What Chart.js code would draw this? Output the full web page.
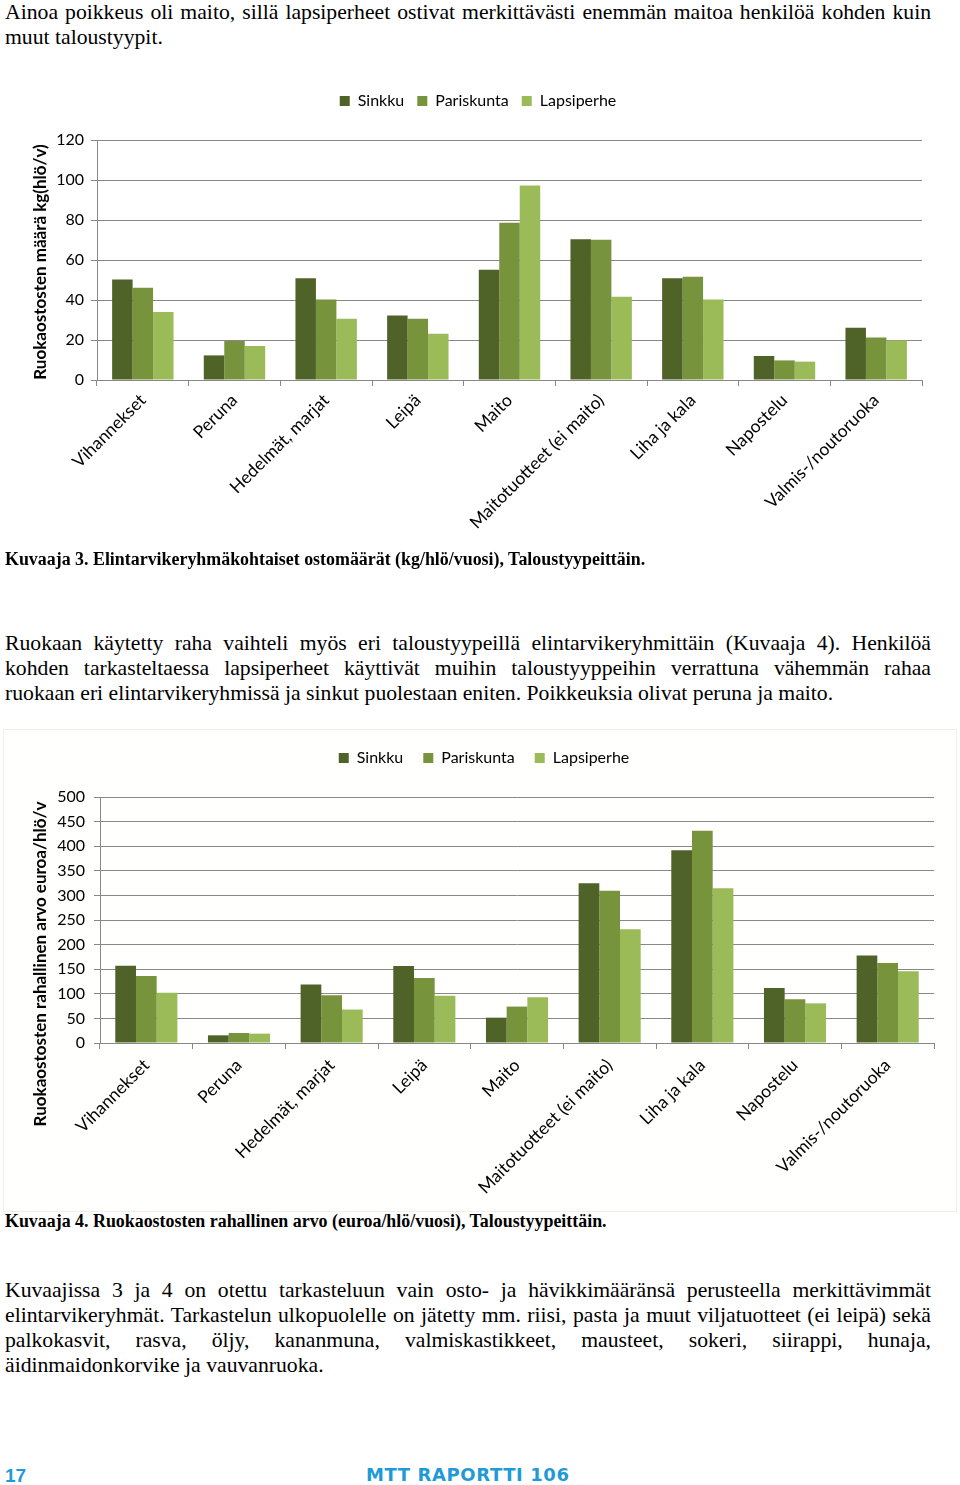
<!DOCTYPE html>
<html>
<head>
<meta charset="utf-8">
<script src="https://cdn.jsdelivr.net/npm/chart.js@4.4.1/dist/chart.umd.min.js"></script>
<style>
  html, body { margin: 0; padding: 0; background: #fff; }
  body { width: 960px; height: 1485px; position: relative; overflow: hidden; }
  .t { position: absolute; left: 5px; width: 926px; font-family: "Liberation Serif", "Times New Roman", serif; font-size: 21.7px; line-height: 25px; color: #000; white-space: nowrap; }
  .j { text-align: justify; text-align-last: justify; }
  .cap { position: absolute; left: 5px; font-family: "Liberation Serif", serif; font-weight: bold; font-size: 17.9px; color: #000; white-space: nowrap; }
  .box { position: absolute; left: 3px; top: 729px; width: 952px; height: 481px; border: 1px solid #eeeeea; background: #fffffe; }
  canvas { position: absolute; }
  .foot { position: absolute; top: 1465px; font-family: "Liberation Sans", Arial, sans-serif; font-weight: bold; color: #1f9ad7; white-space: nowrap; }
</style>
</head>
<body>
<div class="t j" style="top:0px;">Ainoa poikkeus oli maito, sillä lapsiperheet ostivat merkittävästi enemmän maitoa henkilöä kohden kuin</div>
<div class="t" style="top:25px;">muut taloustyypit.</div>

<div style="position:absolute;left:0;top:80px;width:960px;height:470px;"><canvas id="c1"></canvas></div>

<div class="cap" style="top:549px;">Kuvaaja 3. Elintarvikeryhmäkohtaiset ostomäärät (kg/hlö/vuosi), Taloustyypeittäin.</div>

<div class="t j" style="top:631px;">Ruokaan käytetty raha vaihteli myös eri taloustyypeillä elintarvikeryhmittäin (Kuvaaja 4). Henkilöä</div>
<div class="t j" style="top:656px;">kohden tarkasteltaessa lapsiperheet käyttivät muihin taloustyyppeihin verrattuna vähemmän rahaa</div>
<div class="t" style="top:681px;">ruokaan eri elintarvikeryhmissä ja sinkut puolestaan eniten. Poikkeuksia olivat peruna ja maito.</div>

<div class="box"></div>
<div style="position:absolute;left:0;top:730px;width:960px;height:480px;"><canvas id="c2"></canvas></div>

<div class="cap" style="top:1211px;">Kuvaaja 4. Ruokaostosten rahallinen arvo (euroa/hlö/vuosi), Taloustyypeittäin.</div>

<div class="t j" style="top:1278px;">Kuvaajissa 3 ja 4 on otettu tarkasteluun vain osto- ja hävikkimääränsä perusteella merkittävimmät</div>
<div class="t j" style="top:1303px;word-spacing:-1.5px;">elintarvikeryhmät. Tarkastelun ulkopuolelle on jätetty mm. riisi, pasta ja muut viljatuotteet (ei leipä) sekä</div>
<div class="t j" style="top:1328px;">palkokasvit, rasva, öljy, kananmuna, valmiskastikkeet, mausteet, sokeri, siirappi, hunaja,</div>
<div class="t" style="top:1353px;">äidinmaidonkorvike ja vauvanruoka.</div>

<div class="foot" style="left:5px;font-size:19px;">17</div>
<div class="foot" style="left:366px;top:1464px;font-size:18px;font-family:'DejaVu Sans',sans-serif;font-weight:900;letter-spacing:0.6px;">MTT RAPORTTI 106</div>

<script>
const categories = ['Vihannekset', 'Peruna', 'Hedelmät, marjat', 'Leipä', 'Maito', 'Maitotuotteet (ei maito)', 'Liha ja kala', 'Napostelu', 'Valmis-/noutoruoka'];
const seriesNames = ['Sinkku', 'Pariskunta', 'Lapsiperhe'];

// Kuvaaja 3: kg/hlö/v
const kgSinkku     = [50.3, 12.3, 50.9, 32.3, 55.1, 70.4, 50.9, 12.0, 26.1];
const kgPariskunta = [46.1, 19.5, 40.3, 30.6, 78.6, 70.1, 51.6,  9.8, 21.3];
const kgLapsiperhe = [34.0, 17.0, 30.6, 23.1, 97.2, 41.6, 40.3,  9.2, 19.8];

// Kuvaaja 4: euroa/hlö/v
const eurSinkku     = [157, 15.6, 119, 156.5, 51.5, 324.5, 391.6, 111.8, 178.0];
const eurPariskunta = [136, 20.3,  97, 132.0, 74.0, 309.6, 431.6,  88.8, 162.6];
const eurLapsiperhe = [102, 19.0,  68,  96.0, 93.0, 231.0, 314.4,  80.6, 145.7];

const kgAxisMax = 120, kgAxisStep = 20;
const eurAxisMax = 500, eurAxisStep = 50;

const kgTitle = 'Ruokaostosten määrä kg(hlö/v)';
const eurTitle = 'Ruokaostosten rahallinen arvo euroa/hlö/v';

const colors = ['#4f6228', '#77933c', '#9bbb59'];
const gridColor = '#888888';
const FONT = 'Lato, "Open Sans", sans-serif';

const sideTitle = {
  id: 'sideTitle',
  afterDraw(chart, args, o) {
    const c = chart.ctx;
    c.save();
    c.translate(o.x, o.y);
    c.rotate(-Math.PI / 2);
    c.font = 'bold 17px ' + FONT;
    c.fillStyle = '#000';
    c.textAlign = 'center';
    c.textBaseline = 'middle';
    c.fillText(o.text, 0, 0);
    c.restore();
  }
};

const legendGap = {
  id: 'legendGap',
  afterInit(chart, args, o) {
    const lg = chart.legend;
    if (!lg) return;
    const orig = lg.fit;
    lg.fit = function () { orig.call(this); this.height += o.extra; };
  }
};

function makeChart(id, data, yMax, yStep, title, cfg) {
  const datasets = seriesNames.map((n, i) => ({
    label: n,
    data: data[i],
    backgroundColor: colors[i],
    borderWidth: 0,
    categoryPercentage: 0.67,
    barPercentage: 1.0
  }));
  return new Chart(document.getElementById(id), {
    type: 'bar',
    data: { labels: categories, datasets },
    plugins: [sideTitle, legendGap],
    options: {
      responsive: true,
      maintainAspectRatio: false,
      animation: false,
      layout: { padding: { top: cfg.padTop, right: cfg.padRight, left: cfg.padLeft, bottom: 0 } },
      plugins: {
        legend: {
          position: 'top',
          labels: {
            boxWidth: 10, boxHeight: 10, padding: cfg.legPad,
            font: { family: FONT, size: 16 }, color: '#000'
          }
        },
        tooltip: { enabled: false },
        sideTitle: { text: title, x: 41, y: cfg.titleY },
        legendGap: { extra: cfg.legExtra }
      },
      scales: {
        x: {
          afterFit(s) { s.height = cfg.xHeight; },
          grid: { offset: true, drawOnChartArea: false, drawTicks: true, tickLength: 6, color: gridColor },
          border: { display: true, color: gridColor, width: 1 },
          ticks: {
            autoSkip: false, maxRotation: 45, minRotation: 45, padding: cfg.xPad,
            font: { family: FONT, size: 17.5 }, color: '#000'
          }
        },
        y: {
          min: 0, max: yMax,
          afterFit(s) { s.width = cfg.yWidth; },
          grid: { color: gridColor, tickLength: 6, lineWidth: 1 },
          border: { display: true, color: gridColor, width: 1 },
          ticks: { stepSize: yStep, padding: cfg.yPad, font: { family: FONT, size: 16 }, color: '#000' }
        }
      }
    }
  });
}

makeChart('c1', [kgSinkku, kgPariskunta, kgLapsiperhe], kgAxisMax, kgAxisStep, kgTitle,
  { padTop: 0, padRight: 38, padLeft: 34, legPad: 13, legExtra: 21, xHeight: 170, yWidth: 63, yPad: 7, xPad: 4, titleY: 182 });
makeChart('c2', [eurSinkku, eurPariskunta, eurLapsiperhe], eurAxisMax, eurAxisStep, eurTitle,
  { padTop: 0, padRight: 26, padLeft: 34, legPad: 20, legExtra: 21, xHeight: 167, yWidth: 66, yPad: 9, xPad: 6, titleY: 234 });
</script>
</body>
</html>
